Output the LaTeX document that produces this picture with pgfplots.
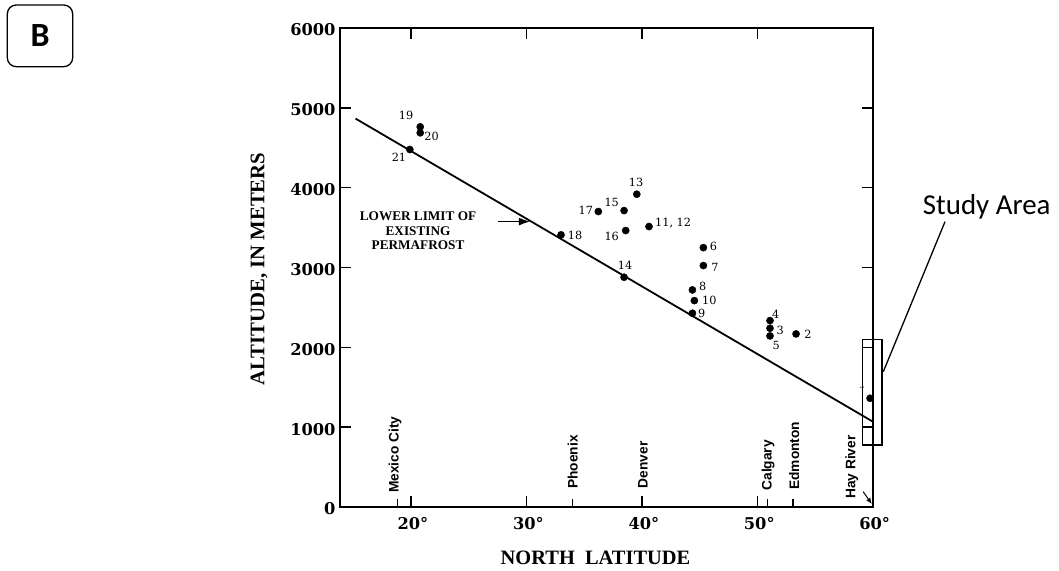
\documentclass[border=0pt]{standalone}
\usepackage{fontspec}
\usepackage{pgfplots}
\pgfplotsset{compat=1.18}
\usetikzlibrary{arrows.meta}
\newfontfamily\calibri{Carlito}
\newfontfamily\citysans{Liberation Sans}
\newfontfamily\labelserif{Liberation Serif}
\newfontfamily\tickserif{DejaVu Serif}

% tick numbers
\newcommand{\ticklab}{\tickserif\bfseries\fontsize{16.3}{16.3}\selectfont}
% point numbers
\newcommand{\ptlab}{\tickserif\fontsize{11.3}{11.3}\selectfont}
% city names along the latitude axis
\newcommand{\citylab}{\citysans\bfseries\fontsize{13.8}{14}\selectfont}

\begin{document}
\begin{tikzpicture}[x=1bp,y=1bp]
\path[use as bounding box] (0,0) rectangle (1059,571);

\begin{axis}[
  at={(340bp,64bp)}, anchor=south west,
  width=532.7bp, height=479bp, scale only axis,
  xmin=13.85, xmax=60, ymin=0, ymax=6000,
  axis line style={line width=1.6bp},
  tick style={line width=1.4bp, black},
  major tick length=11bp,
  tick align=inside,
  xtick={20,30,40,50,60},
  xticklabels={20°,30°,40°,50°,60°},
  ytick={0,1000,2000,3000,4000,5000,6000},
  yticklabels={0,1000,2000,3000,4000,5000,6000},
  tick label style={font=\ticklab},
  xticklabel style={yshift=-7bp, xshift=2bp},
  yticklabel style={xshift=-1bp, yshift=-2bp},
  clip=false,
]
% lower limit of existing permafrost
\addplot[line width=1.8bp, black] coordinates {(15.2,4865) (60,1070)};

% observation sites
\addplot[only marks, mark=*, mark size=3.6bp, black] coordinates {
  (59.77,1362)   % 1
  (53.36,2168)   % 2
  (51.10,2239)   % 3
  (51.10,2335)   % 4
  (51.10,2143)   % 5
  (45.33,3249)   % 6
  (45.33,3024)   % 7
  (44.38,2719)   % 8
  (44.38,2427)   % 9
  (44.55,2585)   % 10
  (40.62,3513)   % 11,12
  (39.56,3918)   % 13
  (38.46,2878)   % 14
  (38.46,3713)   % 15
  (38.60,3463)   % 16
  (36.23,3701)   % 17
  (33.00,3409)   % 18
  (20.80,4762)   % 19
  (20.80,4687)   % 20
  (19.90,4478)   % 21
};

% site numbers
\begin{scope}[every node/.style={font=\ptlab, inner sep=0pt}]
  \node at (axis cs:19.57,4910) {19};
  \node at (axis cs:21.79,4647) {20};
  \node at (axis cs:18.96,4380) {21};
  \node at (axis cs:39.50,4062) {13};
  \node at (axis cs:37.39,3812) {15};
  \node at (axis cs:35.14,3720) {17};
  \node at (axis cs:37.39,3395) {16};
  \node[anchor=west] at (axis cs:41.14,3561) {11, 12};
  \node at (axis cs:34.21,3407) {18};
  \node at (axis cs:38.54,3031) {14};
  \node at (axis cs:46.20,3261) {6};
  \node at (axis cs:46.34,2998) {7};
  \node at (axis cs:45.28,2760) {8};
  \node at (axis cs:45.85,2584) {10};
  \node at (axis cs:45.19,2426) {9};
  \node at (axis cs:51.60,2414) {4};
  \node at (axis cs:51.98,2208) {3};
  \node at (axis cs:51.63,2017) {5};
  \node at (axis cs:54.38,2163) {2};
  \node[font=\fontsize{6}{6}\selectfont, rotate=90] at (axis cs:59.06,1491) {1};
\end{scope}

% annotation of the limit line
\node[font=\labelserif\bfseries\fontsize{13.3}{14.5}\selectfont, align=center, inner sep=0pt]
  at (axis cs:20.61,3457) {LOWER LIMIT OF\\EXISTING\\PERMAFROST};
\draw[line width=1.3bp, -{Latex[length=11bp,width=8bp]}]
  (axis cs:27.57,3575) -- (axis cs:30.3,3575);

% city ticks
\draw[line width=1.4bp] (axis cs:18.85,0) -- (axis cs:18.85,94);
\draw[line width=1.4bp] (axis cs:34.0,0) -- (axis cs:34.0,94);
\draw[line width=1.4bp] (axis cs:50.9,0) -- (axis cs:50.9,94);
\draw[line width=1.4bp] (axis cs:53.1,0) -- (axis cs:53.1,94);

% city names
\begin{scope}[every node/.style={font=\citylab, rotate=90, anchor=west, inner sep=0pt}]
  \node at (axis cs:18.61,175) {Mexico City};
  \node at (axis cs:34.01,225) {Phoenix};
  \node at (axis cs:40.10,234) {Denver};
  \node at (axis cs:50.94,204) {Calgary};
  \node at (axis cs:53.19,213) {Edmonton};
  \node at (axis cs:58.19,100) {Hay River};
\end{scope}
\draw[line width=1bp, -{Latex[length=6bp,width=5bp]}]
  (axis cs:59.17,192) -- (axis cs:59.92,38);
\end{axis}

% axis titles
\node[rotate=90, font=\labelserif\bfseries\fontsize{20.8}{20.8}\selectfont] at (259,302) {ALTITUDE,\ IN METERS};
\node[font=\labelserif\bfseries\fontsize{20.5}{20.5}\selectfont] at (595.5,13) {NORTH\ \ LATITUDE};

% study area marker
\draw[line width=1.5bp] (862.7,231.7) rectangle (882,126);
\draw[line width=1.3bp] (883.3,199.3) -- (945,349.3);
\node[font=\calibri\fontsize{29}{29}\selectfont] at (986.7,364) {Study Area};

% panel letter
\draw[line width=1.3bp, rounded corners=9bp] (7.3,566) rectangle (72.7,504.3);
\node[font=\calibri\bfseries\fontsize{34}{34}\selectfont] at (40,535) {B};
\end{tikzpicture}
\end{document}
